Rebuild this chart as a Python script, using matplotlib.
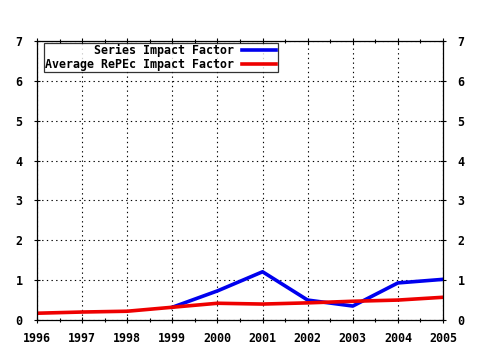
import matplotlib

matplotlib.use("Agg")
import matplotlib.pyplot as plt
from matplotlib.ticker import MultipleLocator

# Valores.
years = [1996, 1997, 1998, 1999, 2000, 2001, 2002, 2003, 2004, 2005]
series_years = [1999, 2000, 2001, 2002, 2003, 2004, 2005]
series_impact = [0.32, 0.73, 1.21, 0.50, 0.35, 0.93, 1.02]
average_impact = [0.17, 0.20, 0.22, 0.32, 0.42, 0.40, 0.43, 0.47, 0.50, 0.57]
y_ticks = [0, 1, 2, 3, 4, 5, 6, 7]

plt.rcParams["font.family"] = "DejaVu Sans Mono"
plt.rcParams["font.weight"] = "bold"
plt.rcParams["font.size"] = 8.4

fig = plt.figure(figsize=(4.8, 3.5), dpi=100)
ax = fig.add_axes([37 / 480, 30 / 350, 406 / 480, 279 / 350])

ax.plot(series_years, series_impact, color="#0000ee", lw=2.6, label="Series Impact Factor")
ax.plot(years, average_impact, color="#ee0000", lw=2.6, label="Average RePEc Impact Factor")

ax.set_xlim(years[0], years[-1])
ax.set_ylim(y_ticks[0], y_ticks[-1])
ax.set_xticks(years)
ax.set_yticks(y_ticks)
ax.xaxis.set_minor_locator(MultipleLocator(0.5))
ax.grid(True, which="major", color="black", ls=(0, (1.2, 3)), lw=0.8)
ax.tick_params(which="both", direction="inout", top=True, right=True, labelright=True,
               length=5, width=0.8)
ax.tick_params(axis="x", pad=6)
ax.tick_params(axis="y", pad=8)
ax.tick_params(which="minor", length=3)
for sp in ax.spines.values():
    sp.set_linewidth(0.9)

leg = ax.legend(loc="upper left", bbox_to_anchor=(0.017, 0.993), markerfirst=False,
                frameon=True, fancybox=False, edgecolor="black", handlelength=2.9,
                borderpad=0.12, labelspacing=0.05, handletextpad=0.7, borderaxespad=0)
leg.get_frame().set_linewidth(0.9)
for t in leg.get_texts():
    t.set_ha("right")
leg._legend_box.align = "right"

fig.savefig("out.png", dpi=100)
